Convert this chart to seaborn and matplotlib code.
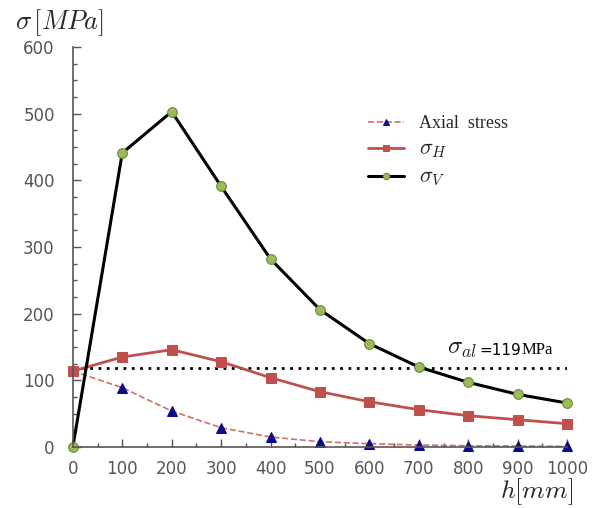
import numpy as np
import pandas as pd
import seaborn as sns
import matplotlib.pyplot as plt
from matplotlib.ticker import MultipleLocator

# data
h = [0, 100, 200, 300, 400, 500, 600, 700, 800, 900, 1000]
axial = [114, 89, 54, 29, 15, 8, 5, 3, 2, 1.5, 1]
sigma_h = [114, 135, 146, 128, 104, 83, 68, 56, 47, 41, 35]
sigma_v = [0, 441, 503, 391, 282, 206, 155, 120, 97, 79, 66]
sigma_al = 119

sns.set_theme(style='white')
plt.rcParams['font.family'] = ['DejaVu Sans']
plt.rcParams['mathtext.fontset'] = 'cm'

df = pd.DataFrame({'h': h, 'axial': axial, 'sh': sigma_h, 'sv': sigma_v})

fig = plt.figure(figsize=(6.02, 5.08), dpi=100)
ax = fig.add_axes([0.121, 0.12, 0.821, 0.7875])

sns.lineplot(data=df, x='h', y='axial', ax=ax, color='#D0706C', lw=1.2,
             linestyle='--', marker='^', markersize=7.5, markerfacecolor='#0B0B8A',
             markeredgecolor='#0B0B8A', clip_on=False, label='Axial  stress')
sns.lineplot(data=df, x='h', y='sh', ax=ax, color='#C0504D', lw=2,
             marker='s', markersize=7, markerfacecolor='#C0504D',
             markeredgecolor='#C0504D', clip_on=False, label=r'$\sigma_H$')
sns.lineplot(data=df, x='h', y='sv', ax=ax, color='black', lw=2.2,
             marker='o', markersize=7, markerfacecolor='#9BBB59',
             markeredgecolor='#6E8A3A', markeredgewidth=0.8, clip_on=False,
             label=r'$\sigma_V$')

ax.plot([0, 1000], [sigma_al, sigma_al], color='black', lw=2,
        linestyle=(0, (1, 2)), zorder=1)
ax.text(757, 130, r'$\sigma_{al}$', fontsize=18, ha='left', va='bottom')
ax.text(822, 134, '=119', fontsize=11, ha='left', va='bottom', color='black')
ax.text(907, 134, 'MPa', fontsize=12, ha='left', va='bottom', color='black',
        family='Liberation Serif')

ax.set_xlim(0, 1000)
ax.set_ylim(0, 600)
ax.xaxis.set_major_locator(MultipleLocator(100))
ax.xaxis.set_minor_locator(MultipleLocator(50))
ax.yaxis.set_major_locator(MultipleLocator(100))
ax.yaxis.set_minor_locator(MultipleLocator(25))
ax.tick_params(axis='both', which='major', direction='in', length=6,
               width=1, color='#555555', labelsize=12, labelcolor='#555555')
ax.tick_params(axis='both', which='minor', direction='in', length=3,
               width=1, color='#555555')
ax.tick_params(axis='x', which='both', bottom=True, pad=9)
ax.tick_params(axis='y', which='both', left=True, pad=13)
for s in ['top', 'right']:
    ax.spines[s].set_visible(False)
for s in ['left', 'bottom']:
    ax.spines[s].set_color('#555555')
    ax.spines[s].set_linewidth(1.2)
ax.set_xlabel('')
ax.set_ylabel('')

fig.text(0.025, 0.925, r'$\sigma\,[MPa]$', fontsize=19, ha='left', va='bottom')
fig.text(0.952, 0.002, r'$h[mm]$', fontsize=18.5, ha='right', va='bottom')

leg = ax.legend(loc='upper left', bbox_to_anchor=(0.565, 0.87), frameon=False,
                handlelength=2.0, labelspacing=0.45, markerscale=0.65,
                handletextpad=0.8,
                prop={'family': 'Liberation Serif', 'size': 13})
for t in leg.get_texts()[1:]:
    t.set_fontsize(16)

fig.savefig('out.png', dpi=100)
